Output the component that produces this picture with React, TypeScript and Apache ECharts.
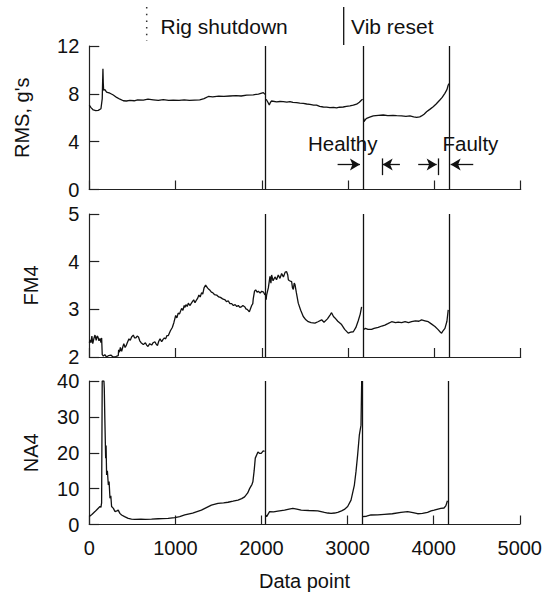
import React, { useEffect, useRef } from "react";
import * as echarts from "echarts";

// Event positions (data point index)
const resetX = [2044, 3175, 4172];

// RMS, g's  (null = break between segments)
const rmsX = [0, 20, 46, 75, 104, 135, 150, 158, 162, 166, 181, 200, 239, 278, 317, 355, 394, 430, 471, 520, 560, 626, 680, 742, 800, 857, 920, 973, 1040, 1100, 1160, 1220, 1280, 1330, 1380, 1430, 1500, 1560, 1630, 1700, 1760, 1824, 1900, 1960, 2017, 2036, 2040,
  2050, 2070, 2086, 2100, 2113, 2171, 2210, 2248, 2290, 2325, 2360, 2403, 2440, 2480, 2520, 2557, 2600, 2634, 2670, 2712, 2750, 2789, 2830, 2866, 2900, 2943, 2980, 3021, 3060, 3098, 3130, 3156, 3168, 3172,
  3180, 3183, 3200, 3214, 3250, 3291, 3350, 3407, 3460, 3520, 3562, 3620, 3670, 3716, 3760, 3793, 3830, 3851, 3880, 3909, 3950, 3986, 4020, 4063, 4090, 4121, 4145, 4160, 4170];
const rmsY = [7.05, 6.85, 6.65, 6.6, 6.62, 6.75, 7.6, 10.1, 8.9, 8.3, 8.35, 8.15, 8.05, 7.9, 7.7, 7.55, 7.42, 7.4, 7.45, 7.42, 7.5, 7.48, 7.55, 7.5, 7.45, 7.52, 7.45, 7.48, 7.45, 7.5, 7.46, 7.48, 7.5, 7.6, 7.78, 7.75, 7.8, 7.78, 7.82, 7.85, 7.82, 7.9, 7.92, 7.98, 8.1, 7.95, null,
  7.55, 7.3, 7.07, 7.3, 7.4, 7.32, 7.36, 7.34, 7.3, 7.34, 7.28, 7.26, 7.22, 7.2, 7.15, 7.12, 7.05, 7.06, 6.95, 6.9, 6.88, 6.84, 6.86, 6.82, 6.88, 6.9, 6.95, 7.0, 7.05, 7.13, 7.3, 7.48, 7.55, null,
  5.95, 5.67, 5.85, 5.95, 6.05, 6.15, 6.2, 6.23, 6.18, 6.2, 6.17, 6.15, 6.12, 6.15, 6.08, 6.04, 6.08, 6.15, 6.3, 6.5, 6.72, 6.92, 7.15, 7.48, 7.7, 8.04, 8.35, 8.74, 8.85];

// FM4
const fm4X = [0, 10, 20, 30, 40, 55, 66, 80, 90, 100, 112, 124, 135, 143, 150, 163, 180, 200, 225, 250, 275, 300, 320, 336, 340, 350, 360, 375, 390, 400, 415, 430, 445, 460, 475, 490, 510, 525, 540, 555, 570, 585, 600, 626, 650, 665, 680, 700, 723, 740, 760, 775, 790, 805, 820, 839, 855, 870, 885, 900, 916, 940, 962, 980, 1001, 1015, 1030, 1045, 1070, 1085, 1100, 1110, 1120, 1135, 1148, 1165, 1180, 1195, 1210, 1225, 1244, 1258, 1270, 1285, 1302, 1315, 1330, 1348, 1370, 1385, 1399, 1415, 1430, 1450, 1476, 1500, 1520, 1545, 1574, 1590, 1610, 1630, 1650, 1670, 1690, 1710, 1727, 1745, 1760, 1780, 1804, 1815, 1830, 1855, 1882, 1895, 1900, 1915, 1928, 1945, 1960, 1980, 1998, 2020, 2036, 2040,
  2050, 2055, 2075, 2094, 2105, 2113, 2130, 2152, 2170, 2190, 2210, 2229, 2250, 2270, 2287, 2300, 2307, 2320, 2345, 2355, 2365, 2375, 2384, 2400, 2422, 2450, 2480, 2510, 2538, 2570, 2615, 2650, 2693, 2720, 2760, 2790, 2808, 2830, 2847, 2880, 2924, 2960, 3001, 3030, 3060, 3090, 3117, 3140, 3156, 3165,
  3175, 3200, 3230, 3272, 3300, 3349, 3390, 3426, 3460, 3504, 3550, 3580, 3620, 3660, 3700, 3735, 3780, 3820, 3851, 3890, 3929, 3960, 4006, 4040, 4070, 4083, 4100, 4122, 4145, 4160];
const fm4Y = [2.3, 2.36, 2.3, 2.44, 2.28, 2.4, 2.46, 2.35, 2.44, 2.42, 2.34, 2.39, 2.3, 2.4, 2.05, 2.02, 2.05, 2.0, 2.03, 2.04, 2.0, 2.0, 2.02, 2.03, 2.15, 2.1, 2.2, 2.12, 2.22, 2.28, 2.2, 2.25, 2.32, 2.38, 2.35, 2.42, 2.46, 2.4, 2.4, 2.44, 2.42, 2.34, 2.3, 2.26, 2.3, 2.25, 2.22, 2.28, 2.25, 2.3, 2.32, 2.27, 2.24, 2.33, 2.38, 2.32, 2.37, 2.4, 2.38, 2.45, 2.45, 2.55, 2.62, 2.72, 2.87, 2.82, 2.92, 2.9, 3.02, 2.98, 3.08, 3.04, 3.1, 3.06, 3.13, 3.08, 3.12, 3.16, 3.2, 3.14, 3.2, 3.24, 3.3, 3.26, 3.35, 3.32, 3.45, 3.51, 3.45, 3.42, 3.4, 3.36, 3.35, 3.31, 3.3, 3.26, 3.25, 3.22, 3.2, 3.16, 3.18, 3.12, 3.12, 3.08, 3.1, 3.06, 3.08, 3.04, 3.05, 3.08, 3.05, 3.01, 3.0, 2.95, 3.08, 3.12, 3.22, 3.38, 3.41, 3.36, 3.38, 3.34, 3.38, 3.36, 3.3, null,
  3.2, 3.3, 3.45, 3.69, 3.55, 3.72, 3.6, 3.68, 3.62, 3.72, 3.65, 3.75, 3.68, 3.78, 3.79, 3.72, 3.62, 3.6, 3.58, 3.45, 3.42, 3.55, 3.52, 3.35, 3.13, 2.98, 2.85, 2.78, 2.74, 2.72, 2.71, 2.74, 2.78, 2.73, 2.8, 2.88, 2.93, 2.85, 2.82, 2.75, 2.68, 2.58, 2.5, 2.52, 2.53, 2.62, 2.76, 2.9, 3.05, null,
  2.57, 2.6, 2.58, 2.58, 2.6, 2.62, 2.65, 2.67, 2.7, 2.74, 2.72, 2.73, 2.72, 2.74, 2.72, 2.74, 2.76, 2.75, 2.78, 2.76, 2.74, 2.7, 2.64, 2.58, 2.52, 2.5, 2.55, 2.6, 2.75, 2.99];

// NA4
const na4X = [0, 30, 66, 90, 124, 135, 143, 150, 160, 170, 174, 180, 190, 195, 201, 210, 221, 230, 240, 250, 259, 280, 298, 320, 336, 355, 375, 410, 452, 490, 529, 600, 650, 723, 800, 850, 916, 993, 1050, 1109, 1200, 1302, 1360, 1418, 1495, 1560, 1611, 1670, 1727, 1770, 1804, 1840, 1862, 1890, 1900, 1915, 1928, 1959, 1980, 1997, 2020, 2036, 2040,
  2050, 2060, 2094, 2140, 2190, 2268, 2320, 2364, 2410, 2461, 2550, 2654, 2731, 2770, 2808, 2850, 2886, 2930, 2963, 3001, 3040, 3079, 3098, 3117, 3137, 3156, 3164, 3170,
  3175, 3220, 3272, 3350, 3426, 3520, 3620, 3697, 3760, 3813, 3870, 3929, 3970, 4006, 4050, 4083, 4120, 4141, 4160];
const na4Y = [2.2, 2.8, 3.6, 4.2, 5.0, 4.8, 6, 40, 40, 40, 38, 30, 18.5, 22, 13.8, 15, 11, 12, 7.3, 8, 5, 4.5, 3.6, 3.8, 4, 3.1, 2.65, 2.2, 1.7, 1.5, 1.44, 1.5, 1.45, 1.5, 1.6, 1.65, 1.7, 1.9, 2.2, 2.65, 3.2, 4.0, 4.7, 5.4, 5.9, 6.0, 6.2, 6.5, 6.8, 7.2, 7.7, 8.8, 10.0, 11.2, 11.9, 15, 18.5, 20.2, 19.8, 19.8, 20.5, 20.4, null,
  2.6, 2.2, 3.6, 3.5, 3.7, 4.0, 4.3, 4.5, 4.3, 4.0, 3.9, 3.8, 3.4, 3.2, 3.1, 3.2, 3.4, 3.8, 4.2, 5.0, 6.8, 11, 14.8, 19.4, 25, 27.7, 40, null,
  2.2, 2.3, 2.65, 2.7, 2.85, 3.0, 3.4, 3.6, 3.3, 3.0, 3.1, 3.4, 3.8, 4.0, 4.3, 4.5, 4.6, 5.2, 6.6];

// Healthy / Faulty arrow annotations (data coordinates on RMS panel)
const arrowY = 2.1;
const arrows = [
  [2878, 3137],
  [3600, 3400],
  [3812, 4026],
  [4450, 4188],
];
const bars = [3400, 4044];

const FONT = "'Liberation Sans', Arial, Helvetica, sans-serif";
const INK = "#111";

function pairs(xs: number[], ys: (number | null)[]) {
  return xs.map((x, i) => [x, ys[i] === null ? "-" : ys[i]]);
}

export default function App() {
  const ref = useRef<HTMLDivElement>(null);
  useEffect(() => {
    if (!ref.current) return;
    const chart = echarts.init(ref.current, null, { renderer: "svg" });
    const L = 89.3;
    const R = 24.3;
    const grids = [
      { left: L, right: R, top: 46, height: 143.5 },
      { left: L, right: R, top: 214, height: 143 },
      { left: L, right: R, top: 381, height: 143.5 },
    ];
    const axisLine = { show: true, lineStyle: { color: "#222", width: 1.2 } };
    const xAxes = grids.map((_, i) => ({
      type: "value",
      gridIndex: i,
      min: 0,
      max: 5000,
      interval: 1000,
      axisLine,
      axisTick: { show: true, inside: true, length: 9, lineStyle: { color: "#222", width: 1.2 } },
      axisLabel: {
        show: i === 2,
        fontFamily: FONT,
        fontSize: 20,
        color: INK,
        margin: 13,
        formatter: (v: number) => String(v),
      },
      splitLine: { show: false },
      name: i === 2 ? "Data point" : "",
      nameLocation: "middle",
      nameGap: 46,
      nameTextStyle: { fontFamily: FONT, fontSize: 20, color: INK },
    }));
    const yCfg = [
      { min: 0, max: 12, interval: 4, name: "RMS, g's", gap: 57 },
      { min: 2, max: 5, interval: 1, name: "FM4", gap: 48 },
      { min: 0, max: 40, interval: 10, name: "NA4", gap: 48 },
    ];
    const yAxes = yCfg.map((c, i) => ({
      type: "value",
      gridIndex: i,
      min: c.min,
      max: c.max,
      interval: c.interval,
      axisLine,
      axisTick: { show: true, inside: true, length: 10, lineStyle: { color: "#222", width: 1.2 } },
      axisLabel: { fontFamily: FONT, fontSize: 20, color: INK, margin: 10, formatter: (v: number) => String(v) },
      splitLine: { show: false },
      name: c.name,
      nameLocation: "middle",
      nameRotate: 90,
      nameGap: c.gap,
      nameTextStyle: { fontFamily: FONT, fontSize: 20, color: INK },
    }));
    const vLines = resetX.map((x) => ({ xAxis: x }));
    const vMark = {
      silent: true,
      symbol: ["none", "none"],
      label: { show: false },
      lineStyle: { color: "#111", type: "solid", width: 1.3 },
      emphasis: { disabled: true },
      data: vLines,
    };
    const arrowLines = arrows.map(([a, b]) => [
      { coord: [a, arrowY], symbol: "none" },
      { coord: [b, arrowY], symbol: "arrow", symbolSize: [9, 10] },
    ]);
    const barLines = bars.map((x) => [
      { coord: [x, 2.6], symbol: "none" },
      { coord: [x, 1.2], symbol: "none" },
    ]);
    const lineBase = {
      type: "line",
      showSymbol: false,
      symbol: "none",
      connectNulls: false,
      lineStyle: { color: "#111", width: 1.3 },
      silent: true,
    };
    chart.setOption({
      animation: false,
      backgroundColor: "#fff",
      grid: grids,
      xAxis: xAxes,
      yAxis: yAxes,
      series: [
        {
          ...lineBase,
          xAxisIndex: 0,
          yAxisIndex: 0,
          data: pairs(rmsX, rmsY),
          markLine: {
            ...vMark,
            data: [...vLines, ...arrowLines, ...barLines],
          },
        },
        { ...lineBase, xAxisIndex: 1, yAxisIndex: 1, data: pairs(fm4X, fm4Y), markLine: vMark },
        { ...lineBase, xAxisIndex: 2, yAxisIndex: 2, data: pairs(na4X, na4Y), markLine: vMark },
      ],
      graphic: [
        { type: "line", shape: { x1: 146.7, y1: 7, x2: 146.7, y2: 41 }, style: { stroke: "#333", lineWidth: 1.5, lineDash: [1.5, 5.2] } },
        { type: "text", x: 160.5, y: 26, style: { text: "Rig shutdown", font: `21px ${FONT}`, fill: INK, verticalAlign: "middle" } },
        { type: "line", shape: { x1: 343.7, y1: 7, x2: 343.7, y2: 45 }, style: { stroke: "#111", lineWidth: 1.3 } },
        { type: "text", x: 351, y: 26, style: { text: "Vib reset", font: `21px ${FONT}`, fill: INK, verticalAlign: "middle" } },
        { type: "text", x: 308, y: 143.7, style: { text: "Healthy", font: `20.5px ${FONT}`, fill: INK, verticalAlign: "middle" } },
        { type: "text", x: 442.5, y: 143.5, style: { text: "Faulty", font: `20.5px ${FONT}`, fill: INK, verticalAlign: "middle" } },
      ],
    });
    return () => chart.dispose();
  }, []);
  return (
    <div
      ref={ref}
      style={{ position: "fixed", left: 0, top: 0, width: 545, height: 599, background: "#fff" }}
    />
  );
}
